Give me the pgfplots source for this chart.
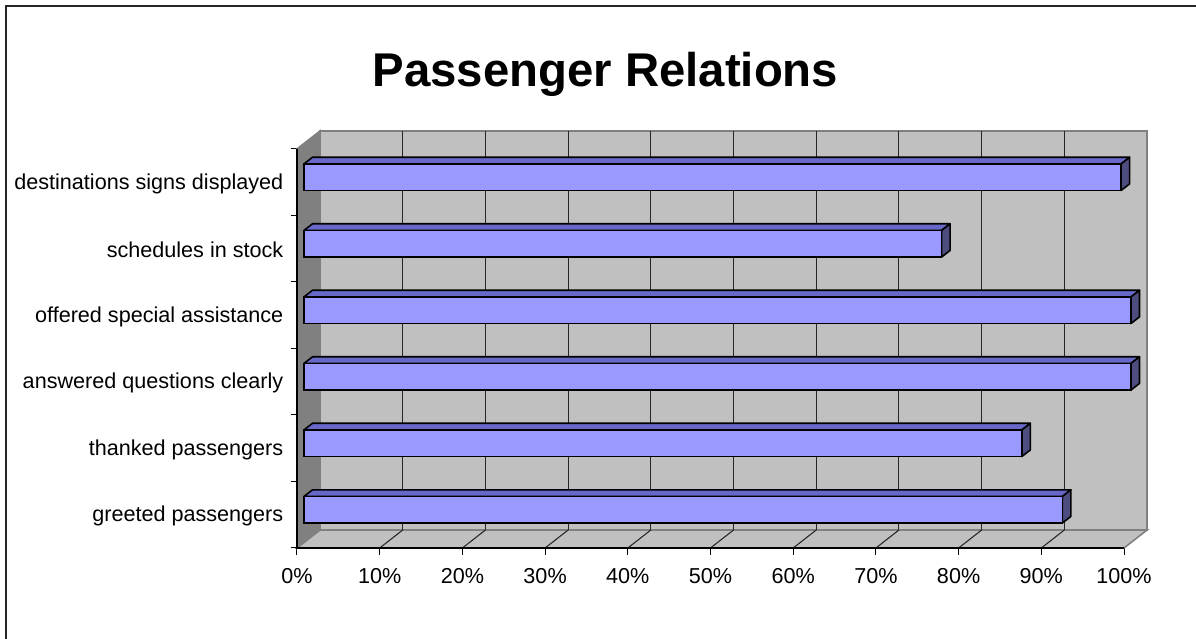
\documentclass[border=0pt]{standalone}
\usepackage{pgfplots}
\pgfplotsset{compat=1.18}
\usepackage{pgfplotstable}
\usepackage{fontspec}
\setmainfont{Liberation Sans}
\definecolor{barfront}{HTML}{9999FF}
\definecolor{bartop}{HTML}{6868C8}
\definecolor{barside}{HTML}{4D4D80}
\definecolor{wallback}{HTML}{C0C0C0}
\definecolor{wallside}{HTML}{808080}

\pgfplotstableread{
idx v
0 91.7
1 86.8
2 100
3 100
4 77.1
5 98.8
}\datatable

\begin{document}
\begin{tikzpicture}
\useasboundingbox (0pt,0pt) rectangle (897pt,479.25pt);
\draw[line width=1.5pt, black!85] (4.5pt,0pt) -- (4.5pt,474.75pt) -- (897pt,474.75pt);
\node[anchor=base, font=\bfseries\fontsize{35.5}{40}\selectfont] at (454.1pt,414.5pt) {Passenger Relations};
\begin{axis}[
  at={(222.75pt,68.25pt)}, anchor=south west,
  scale only axis, width=637.5pt, height=312.75pt,
  xmin=-0.846, xmax=101.934, ymin=0, ymax=6.27,
  axis line style={draw=none},
  clip=false,
  xtick={-0.846,9.154,19.154,29.154,39.154,49.154,59.154,69.154,79.154,89.154,99.154},
  xticklabels={0\%,10\%,20\%,30\%,40\%,50\%,60\%,70\%,80\%,90\%,100\%},
  ytick={0.5,1.5,2.5,3.5,4.5,5.5},
  yticklabels={greeted passengers,thanked passengers,answered questions clearly,offered special assistance,schedules in stock,destinations signs displayed},
  minor ytick={0,1,2,3,4,5,6},
  tick pos=left, tick align=outside,
  major tick length=5.25pt, minor tick length=4.5pt,
  major y tick style={draw=none},
  tick style={black, line width=0.75pt},
  ticklabel style={font=\fontsize{16.2}{19}\selectfont},
  yticklabel style={xshift=-1.5pt, yshift=-1pt},
  xticklabel style={yshift=-6.5pt},
]
% walls
\path[fill=wallback, draw=wallside, line width=1.2pt] (axis cs:1.934,0.27) rectangle (axis cs:101.934,6.27);
\path[fill=wallside, draw=wallside, line width=1.2pt] (axis cs:-0.846,0) -- (axis cs:1.934,0.27) -- (axis cs:1.934,6.27) -- (axis cs:-0.846,6) -- cycle;
\path[fill=wallback, draw=wallside, line width=1.2pt] (axis cs:-0.846,0) -- (axis cs:99.154,0) -- (axis cs:101.934,0.27) -- (axis cs:1.934,0.27) -- cycle;
\pgfplotsinvokeforeach{1,...,9}{
  \pgfmathsetmacro\gx{1.934+10*#1}
  \pgfmathsetmacro\fx{-0.846+10*#1}
  \edef\tmp{\noexpand\draw[black!85, line width=0.8pt] (axis cs:\gx,0.27) -- (axis cs:\gx,6.27);
    \noexpand\draw[black!85, line width=0.8pt] (axis cs:\fx,0) -- (axis cs:\gx,0.27);}
  \tmp
}
\draw[black, line width=0.8pt] (axis cs:-0.846,6) -- (axis cs:-0.846,0) -- (axis cs:99.154,0);
% bar top and end faces
\pgfplotsinvokeforeach{0,...,5}{
  \pgfplotstablegetelem{#1}{v}\of\datatable
  \pgfmathsetmacro\va{\pgfplotsretval}
  \pgfmathsetmacro\vb{\pgfplotsretval+1.03}
  \pgfmathsetmacro\ya{#1+0.375}
  \pgfmathsetmacro\yb{#1+0.775}
  \pgfmathsetmacro\yc{#1+0.875}
  \pgfmathsetmacro\yd{#1+0.475}
  \edef\tmp{\noexpand\path[fill=bartop, draw=black, line width=1.2pt, line join=round] (axis cs:0,\yb) -- (axis cs:\va,\yb) -- (axis cs:\vb,\yc) -- (axis cs:1.03,\yc) -- cycle;
    \noexpand\path[fill=barside, draw=black, line width=1.2pt, line join=round] (axis cs:\va,\ya) -- (axis cs:\va,\yb) -- (axis cs:\vb,\yc) -- (axis cs:\vb,\yd) -- cycle;}
  \tmp
}
\addplot[xbar, bar width=0.4, bar shift=0pt, fill=barfront, draw=black, line width=1.2pt]
  table[x=v, y expr=\thisrow{idx}+0.575]{\datatable};
\end{axis}
\end{tikzpicture}
\end{document}
